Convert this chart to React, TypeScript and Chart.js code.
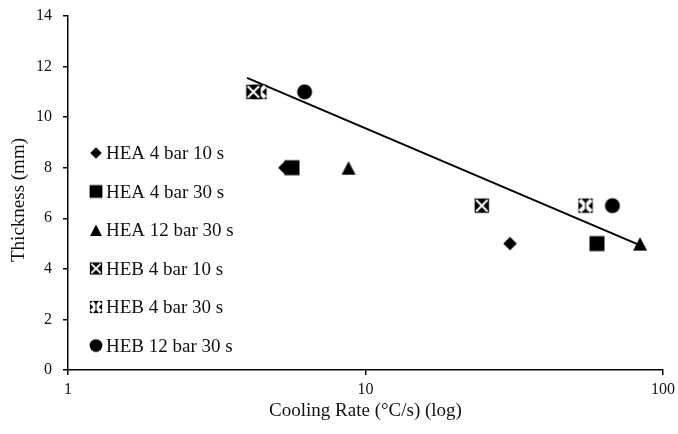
import React, { useEffect, useRef } from 'react';
import { Chart, registerables } from 'chart.js';

Chart.register(...registerables);

const SERIES_NAMES = [
  'HEA 4 bar 10 s',
  'HEA 4 bar 30 s',
  'HEA 12 bar 30 s',
  'HEB 4 bar 10 s',
  'HEB 4 bar 30 s',
  'HEB 12 bar 30 s',
];
const HEA_4_10_X = [5.36, 30.6];
const HEA_4_10_Y = [8, 5];
const HEA_4_30_X = [5.66, 60.0];
const HEA_4_30_Y = [8, 5];
const HEA_12_30_X = [8.77, 83.7];
const HEA_12_30_Y = [8, 5];
const HEB_4_10_X = [4.2, 24.6];
const HEB_4_10_Y = [11, 6.5];
const HEB_4_30_X = [4.4, 54.9];
const HEB_4_30_Y = [11, 6.5];
const HEB_12_30_X = [6.24, 67.6];
const HEB_12_30_Y = [11, 6.5];
const TREND_X = [4.0, 87];
const TREND_Y = [11.55, 4.85];
const X_TICKS = [1, 10, 100];
const Y_MIN = 0;
const Y_MAX = 14;
const Y_STEP = 2;
const X_TITLE = 'Cooling Rate (°C/s) (log)';
const Y_TITLE = 'Thickness (mm)';

const SERIES_X = [HEA_4_10_X, HEA_4_30_X, HEA_12_30_X, HEB_4_10_X, HEB_4_30_X, HEB_12_30_X];
const SERIES_Y = [HEA_4_10_Y, HEA_4_30_Y, HEA_12_30_Y, HEB_4_10_Y, HEB_4_30_Y, HEB_12_30_Y];
const KINDS = ['diamond', 'square', 'triangle', 'xbox', 'xbox2', 'circle'];

const FONT = '"Liberation Serif", "Times New Roman", serif';

function makeMarker(kind: string, s: number): HTMLCanvasElement {
  const size = 22;
  const c = document.createElement('canvas');
  c.width = size;
  c.height = size;
  const ctx = c.getContext('2d')!;
  const cx = size / 2;
  const cy = size / 2;
  ctx.fillStyle = '#000';
  ctx.beginPath();
  if (kind === 'diamond') {
    const r = 6.8 * s;
    ctx.moveTo(cx, cy - r);
    ctx.lineTo(cx + r, cy);
    ctx.lineTo(cx, cy + r);
    ctx.lineTo(cx - r, cy);
    ctx.closePath();
    ctx.fill();
  } else if (kind === 'square') {
    const h = 7.5 * s;
    ctx.rect(cx - h, cy - h, 2 * h, 2 * h);
    ctx.fill();
  } else if (kind === 'triangle') {
    const w = 7 * s;
    ctx.moveTo(cx, cy - 6.5 * s);
    ctx.lineTo(cx + w, cy + 7 * s);
    ctx.lineTo(cx - w, cy + 7 * s);
    ctx.closePath();
    ctx.fill();
  } else if (kind === 'circle') {
    ctx.arc(cx, cy, 7.5 * s, 0, Math.PI * 2);
    ctx.fill();
  } else {
    const h = 7.2 * s;
    ctx.rect(cx - h, cy - h, 2 * h, 2 * h);
    ctx.fill();
    ctx.strokeStyle = '#fff';
    ctx.lineWidth = kind === 'xbox' ? 2 : 4;
    ctx.beginPath();
    const k = h - 1.5;
    ctx.moveTo(cx - k, cy - k);
    ctx.lineTo(cx + k, cy + k);
    ctx.moveTo(cx + k, cy - k);
    ctx.lineTo(cx - k, cy + k);
    ctx.stroke();
    if (kind === 'xbox2') {
      ctx.strokeStyle = '#000';
      ctx.lineWidth = 1;
      ctx.beginPath();
      ctx.moveTo(cx, cy - h + 1);
      ctx.lineTo(cx, cy + h - 1);
      ctx.stroke();
    }
  }
  return c;
}

export default function App() {
  const ref = useRef<HTMLCanvasElement | null>(null);

  useEffect(() => {
    if (!ref.current) return;
    const plotMarkers = KINDS.map((k) => makeMarker(k, 1));
    const legendMarkers = KINDS.map((k) => makeMarker(k, 0.85));

    const datasets: any[] = SERIES_NAMES.map((name, i) => ({
      type: 'scatter',
      label: name,
      data: SERIES_X[i].map((x, j) => ({ x, y: SERIES_Y[i][j] })),
      pointStyle: plotMarkers[i],
      pointRadius: 8,
      backgroundColor: '#000',
      borderColor: '#000',
    }));
    datasets.push({
      type: 'line',
      label: 'Trend',
      data: TREND_X.map((x, j) => ({ x, y: TREND_Y[j] })),
      borderColor: '#000',
      borderWidth: 2,
      pointRadius: 0,
      fill: false,
    });

    const legendPlugin = {
      id: 'customLegend',
      afterDraw(chart: any) {
        const ctx = chart.ctx;
        const area = chart.chartArea;
        ctx.save();
        ctx.font = `19px ${FONT}`;
        ctx.fillStyle = '#111';
        ctx.textBaseline = 'alphabetic';
        ctx.textAlign = 'left';
        SERIES_NAMES.forEach((name, i) => {
          const y = 153 + i * 38.5;
          const img = legendMarkers[i];
          ctx.drawImage(img, 96 - img.width / 2, y - img.height / 2);
          ctx.fillText(name, 106, y + 6);
        });
        // axis titles
        ctx.textAlign = 'center';
        ctx.textBaseline = 'middle';
        ctx.fillText(X_TITLE, (area.left + area.right) / 2, 411);
        ctx.translate(19, (area.top + area.bottom) / 2 + 7);
        ctx.rotate(-Math.PI / 2);
        ctx.fillText(Y_TITLE, 0, 0);
        ctx.restore();
      },
    };

    const chart = new Chart(ref.current, {
      type: 'scatter',
      data: { datasets },
      plugins: [legendPlugin],
      options: {
        animation: false,
        responsive: true,
        maintainAspectRatio: false,
        layout: { padding: { top: 16, right: 15, left: 8, bottom: 8 } },
        plugins: { legend: { display: false }, tooltip: { enabled: false } },
        scales: {
          x: {
            type: 'logarithmic',
            min: X_TICKS[0],
            max: X_TICKS[X_TICKS.length - 1],
            afterBuildTicks: (s: any) => {
              s.ticks = X_TICKS.map((v) => ({ value: v }));
            },
            afterFit: (s: any) => {
              s.height = 56;
              s.paddingLeft = 0;
              s.paddingRight = 0;
            },
            ticks: {
              color: '#111',
              font: { family: FONT, size: 16 },
              padding: 5,
              maxRotation: 0,
              autoSkip: false,
              callback: (v: any) => String(v),
            },
            grid: { drawOnChartArea: false, drawTicks: true, tickLength: 5, color: '#000', lineWidth: 1.5 },
            border: { display: true, color: '#000', width: 1.5 },
          },
          y: {
            min: Y_MIN,
            max: Y_MAX,
            afterFit: (s: any) => {
              s.width = 60;
              s.paddingTop = 0;
              s.paddingBottom = 0;
            },
            ticks: {
              stepSize: Y_STEP,
              color: '#111',
              font: { family: FONT, size: 16 },
              padding: 11,
            },
            grid: { drawOnChartArea: false, drawTicks: true, tickLength: 5, color: '#000', lineWidth: 1.5 },
            border: { display: true, color: '#000', width: 1.5 },
          },
        },
      },
    });
    return () => chart.destroy();
  }, []);

  return (
    <div style={{ position: 'absolute', left: 0, top: 0, width: 678, height: 434 }}>
      <canvas ref={ref} />
    </div>
  );
}
